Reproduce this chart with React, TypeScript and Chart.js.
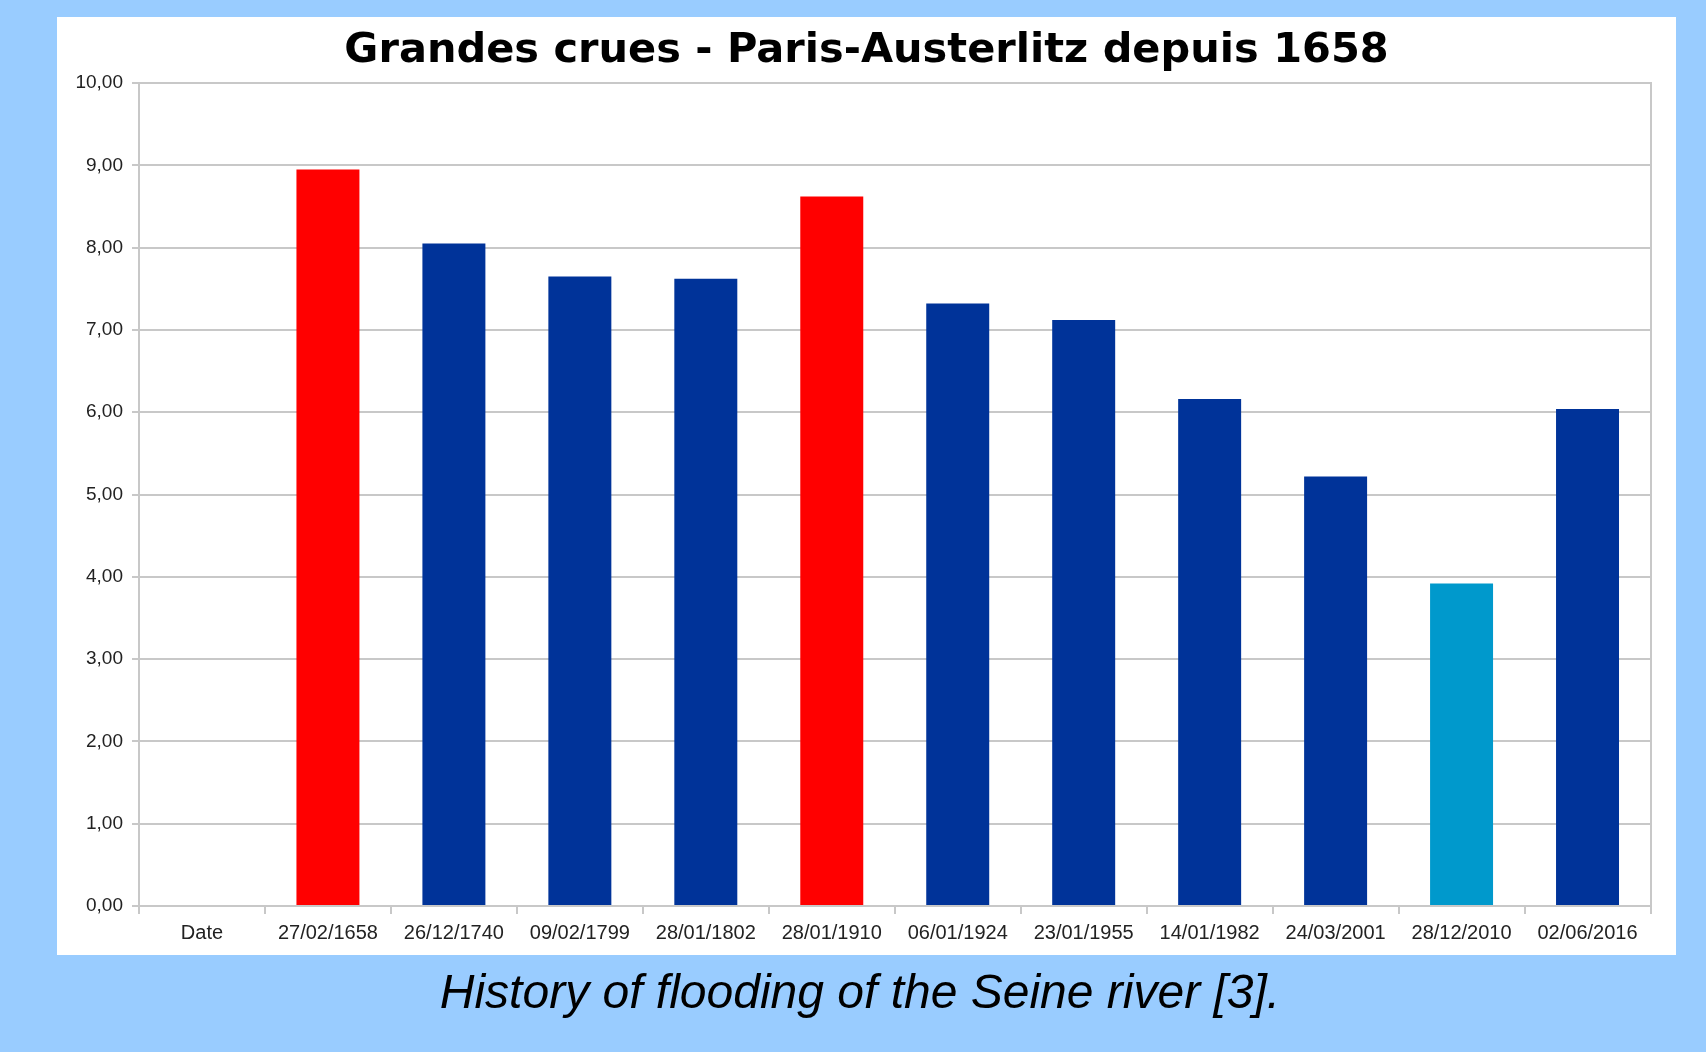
import React, { useEffect, useRef } from "react";
import { Chart, registerables } from "chart.js";

Chart.register(...registerables);

const chartTitle = "Grandes crues - Paris-Austerlitz depuis 1658";
const captionText = "History of flooding of the Seine river [3].";
const categories = [
  "Date",
  "27/02/1658",
  "26/12/1740",
  "09/02/1799",
  "28/01/1802",
  "28/01/1910",
  "06/01/1924",
  "23/01/1955",
  "14/01/1982",
  "24/03/2001",
  "28/12/2010",
  "02/06/2016",
];
const levels: (number | null)[] = [null, 8.95, 8.05, 7.65, 7.62, 8.62, 7.32, 7.12, 6.16, 5.22, 3.92, 6.04];
const barColors = [
  "#003399",
  "#ff0000",
  "#003399",
  "#003399",
  "#003399",
  "#ff0000",
  "#003399",
  "#003399",
  "#003399",
  "#003399",
  "#0099cc",
  "#003399",
];
const yMin = 0;
const yMax = 10;
const yStep = 1;

const GRID = "#c8c8c8";

export default function App() {
  const canvasRef = useRef<HTMLCanvasElement | null>(null);

  useEffect(() => {
    if (!canvasRef.current) return;
    const chart = new Chart(canvasRef.current, {
      type: "bar",
      data: {
        labels: categories,
        datasets: [
          {
            data: levels,
            backgroundColor: barColors,
            borderWidth: 0,
            barPercentage: 0.5,
            categoryPercentage: 1,
          },
        ],
      },
      options: {
        animation: false,
        responsive: true,
        maintainAspectRatio: false,
        layout: { padding: { left: 0, right: 0, top: 0, bottom: 0 } },
        plugins: {
          legend: { display: false },
          tooltip: { enabled: false },
          title: {
            display: true,
            text: chartTitle,
            color: "#000",
            font: { family: "'DejaVu Sans', Verdana, sans-serif", size: 41.5, weight: "bold", lineHeight: 1.2 },
            padding: { top: 9, bottom: 7.2 },
          },
        },
        scales: {
          x: {
            type: "category",
            offset: true,
            grid: {
              display: true,
              offset: true,
              drawOnChartArea: false,
              drawTicks: true,
              tickLength: 8,
              tickColor: GRID,
              lineWidth: 2,
              color: GRID,
            },
            border: { display: true, color: GRID, width: 2 },
            ticks: {
              autoSkip: false,
              maxRotation: 0,
              minRotation: 0,
              color: "#222",
              padding: 7,
              font: { family: "'Liberation Sans', Arial, sans-serif", size: 20 },
            },
            afterFit: (scale: any) => {
              scale.height = 49;
            },
          },
          y: {
            type: "linear",
            position: "left",
            min: yMin,
            max: yMax,
            ticks: {
              stepSize: yStep,
              color: "#222",
              padding: 9,
              font: { family: "'Liberation Sans', Arial, sans-serif", size: 19 },
              callback: (v: any) => Number(v).toFixed(2).replace(".", ","),
            },
            grid: {
              color: GRID,
              lineWidth: 2,
              tickLength: 7,
              tickColor: GRID,
            },
            border: { display: true, color: GRID, width: 2 },
            afterFit: (scale: any) => {
              scale.width = 82;
            },
          },
          yRight: {
            type: "linear",
            position: "right",
            min: yMin,
            max: yMax,
            ticks: { display: false },
            grid: { display: false, drawOnChartArea: false },
            border: { display: true, color: GRID, width: 2 },
            afterFit: (scale: any) => {
              scale.width = 25.5;
            },
          },
        },
      },
    } as any);
    return () => chart.destroy();
  }, []);

  return (
    <div style={{ position: "fixed", inset: 0, background: "#99ccff" }}>
      <div
        style={{
          position: "absolute",
          left: 57,
          top: 17,
          width: 1619,
          height: 938,
          background: "#ffffff",
        }}
      >
        <canvas ref={canvasRef} />
      </div>
      <div
        style={{
          position: "absolute",
          left: 0,
          width: 1720,
          top: 964,
          height: 56,
          lineHeight: "56px",
          textAlign: "center",
          fontFamily: "'Liberation Sans', Arial, sans-serif",
          fontStyle: "italic",
          fontSize: 48,
          color: "#000",
          whiteSpace: "nowrap",
        }}
      >
        {captionText}
      </div>
    </div>
  );
}
